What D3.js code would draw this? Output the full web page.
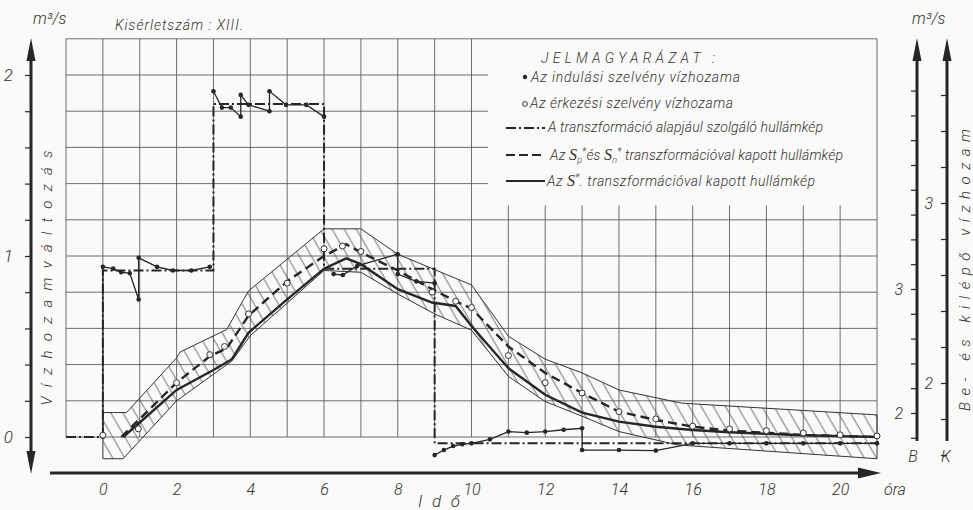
<!DOCTYPE html>
<html>
<head>
<meta charset="utf-8">
<script src="https://cdnjs.cloudflare.com/ajax/libs/d3/7.8.5/d3.min.js"></script>
<style>
body { margin: 0; background: #fafaf8; }
svg text { font-family: "Roboto", "Liberation Sans", sans-serif; font-weight: 300; font-style: italic; fill: #333; }
</style>
</head>
<body>
<div class="chart"></div>
<script>
// ---- data (hours, m3/s) ----
const hourTicks = [0, 2, 4, 6, 8, 10, 12, 14, 16, 18, 20];
const leftTicks = [0, 1, 2];
const bTicks = [2, 3];
const kTicks = [2, 3];

// dash-dot input wave
const inputWave = [[-1, 0], [0, 0], [0, 0.92], [3, 0.92], [3, 1.84], [6, 1.84], [6, 0.93], [9, 0.93], [9, -0.035], [21, -0.035]];

// filled dots: starting section discharge (several runs)
const startRun1 = [[0, 0], [0, 0.94], [0.28, 0.93], [0.5, 0.91], [0.73, 0.905], [0.97, 0.76], [0.97, 0.99], [1.47, 0.94], [1.9, 0.92], [2.4, 0.92], [2.9, 0.94]];
const startRun2 = [[3, 1.91], [3.23, 1.82], [3.47, 1.82], [3.74, 1.77], [3.74, 1.89], [3.95, 1.835], [4.52, 1.8], [4.52, 1.91], [4.97, 1.835], [5.52, 1.835], [6, 1.77]];
const startRun3 = [[6.26, 0.9], [6.51, 0.895], [6.9, 0.945], [8, 1.01], [8, 0.9], [8.5, 0.86], [9, 0.85]];
const startRun4 = [[9, -0.1], [9.25, -0.072], [9.5, -0.05], [9.75, -0.04], [10, -0.035], [10.5, -0.013], [11, 0.03], [11.5, 0.024], [12, 0.03], [12.5, 0.04], [13, 0.048], [13, -0.072], [14, -0.072], [15, -0.075], [16, -0.035], [17, -0.035], [18, -0.035], [19, -0.035], [20, -0.035], [21, -0.035]];

// hollow circles: arrival section discharge
const arrivalHours = [0, 0.96, 2, 2.9, 3.3, 3.95, 5, 6, 6.5, 7, 8.93, 9.57, 10, 11, 12, 13, 14, 15, 16, 17, 18, 19, 20, 21];
const arrivalValues = [0.01, 0.045, 0.3, 0.455, 0.5, 0.68, 0.85, 1.04, 1.055, 1.025, 0.8, 0.75, 0.715, 0.45, 0.3, 0.243, 0.14, 0.1, 0.06, 0.045, 0.035, 0.022, 0.012, 0.006];

// dashed: Sp* and Sn* transformation
const dashedWave = [[0.5, 0], [1, 0.1], [2, 0.3], [2.9, 0.446], [3.36, 0.49], [3.95, 0.67], [5, 0.86], [6, 1.0], [6.6, 1.065], [7, 1.02], [8, 0.92], [8.93, 0.817], [9.57, 0.75], [10, 0.71], [11, 0.5], [12, 0.354], [13, 0.243], [14, 0.14], [15, 0.094], [16, 0.057], [17, 0.035], [18, 0.024], [19, 0.011], [20, 0.006], [21, 0]];

// solid: S* transformation
const solidWave = [[0.55, 0], [1, 0.08], [2, 0.26], [3, 0.37], [3.5, 0.43], [3.95, 0.576], [5, 0.76], [6, 0.93], [6.6, 0.987], [7, 0.955], [8, 0.817], [8.93, 0.743], [9.57, 0.724], [10, 0.613], [11, 0.38], [12, 0.233], [13, 0.135], [14, 0.085], [15, 0.057], [16, 0.039], [17, 0.026], [18, 0.017], [19, 0.01], [20, 0.005], [21, 0]];

// hatched band
const bandUpper = [[0, 0.135], [0.64, 0.135], [2, 0.437], [2.1, 0.47], [3.36, 0.594], [3.95, 0.807], [6, 1.15], [7, 1.15], [8, 1.01], [10, 0.84], [11, 0.557], [12, 0.43], [13, 0.354], [14, 0.26], [15.7, 0.187], [21, 0.122]];
const bandLower = [[0, -0.12], [0.55, -0.12], [2, 0.2], [3.5, 0.42], [4, 0.56], [6, 0.92], [7, 0.91], [8, 0.79], [9, 0.68], [10, 0.59], [11, 0.335], [12, 0.196], [13, 0.115], [14, 0.03], [15.6, -0.044], [21, -0.12]];

const width = 973, height = 510;
const ink = "#262626";

let svg = d3.select(".chart")
    .append("svg")
    .attr("width", width)
    .attr("height", height);

let x = d3.scaleLinear().domain([-1, 21]).range([66, 877]);
let y = d3.scaleLinear().domain([0, 2]).range([437, 75]);
let yB = d3.scaleLinear().domain([2, 3]).range([413, 289]);
let yK = d3.scaleLinear().domain([2, 3]).range([383, 203]);

const legendBottom = 1.28;  // grid is cut out above this value right of hour 10.45
const legendLeft = 10.45;

// hatch pattern
let defs = svg.append("defs");
defs.append("pattern")
    .attr("id", "hatch")
    .attr("patternUnits", "userSpaceOnUse")
    .attr("width", 10.5)
    .attr("height", 10.5)
    .attr("patternTransform", "rotate(-30)")
    .append("line")
    .attr("x1", 5).attr("x2", 5)
    .attr("y1", 0).attr("y2", 10.5)
    .attr("stroke", "#555")
    .attr("stroke-width", 0.8);

// ---- grid ----
let grid = svg.append("g").attr("stroke", "#4a4a4a").attr("stroke-width", 0.8);
grid.selectAll(".vline")
    .data(d3.range(-1, 22))
    .enter()
    .append("line")
    .attr("x1", function(d){ return x(d); })
    .attr("x2", function(d){ return x(d); })
    .attr("y1", y(0))
    .attr("y2", function(d){ return (d <= 10 || d == 21) ? y(2.2) : y(legendBottom); });
grid.selectAll(".hline")
    .data(d3.range(0, 11).map(function(i){ return i * 0.2; }))
    .enter()
    .append("line")
    .attr("y1", function(d){ return y(d); })
    .attr("y2", function(d){ return y(d); })
    .attr("x1", x(-1))
    .attr("x2", function(d){ return d > legendBottom ? x(legendLeft) : x(21); });
grid.append("line")
    .attr("x1", x(-1)).attr("x2", x(21))
    .attr("y1", y(2.2)).attr("y2", y(2.2));

// ---- hatched band ----
let polyLine = d3.line()
    .x(function(d){ return x(d[0]); })
    .y(function(d){ return y(d[1]); });
svg.append("path")
    .attr("d", polyLine(bandUpper.concat(bandLower.slice().reverse())) + "Z")
    .attr("fill", "url(#hatch)")
    .attr("stroke", "#333")
    .attr("stroke-width", 1);

// ---- waves ----
svg.append("path")
    .attr("d", polyLine(inputWave))
    .attr("fill", "none")
    .attr("stroke", ink)
    .attr("stroke-width", 2)
    .attr("stroke-dasharray", "10,3,2,3");

svg.append("path")
    .attr("d", polyLine(dashedWave))
    .attr("fill", "none")
    .attr("stroke", ink)
    .attr("stroke-width", 2.4)
    .attr("stroke-dasharray", "9,5");

svg.append("path")
    .attr("d", polyLine(solidWave))
    .attr("fill", "none")
    .attr("stroke", ink)
    .attr("stroke-width", 2.4);

// starting section runs (filled dots)
[startRun1, startRun2, startRun3, startRun4].forEach(function(run){
    svg.append("path")
        .attr("d", polyLine(run))
        .attr("fill", "none")
        .attr("stroke", ink)
        .attr("stroke-width", 1.3);
    svg.selectAll(null)
        .data(run)
        .enter()
        .append("circle")
        .attr("cx", function(d){ return x(d[0]); })
        .attr("cy", function(d){ return y(d[1]); })
        .attr("r", 2.3)
        .attr("fill", ink);
});

// arrival section (hollow circles)
svg.selectAll(".arr")
    .data(arrivalHours)
    .enter()
    .append("circle")
    .attr("cx", function(d){ return x(d); })
    .attr("cy", function(d, i){ return y(arrivalValues[i]); })
    .attr("r", 3)
    .attr("fill", "#fafaf8")
    .attr("stroke", "#333")
    .attr("stroke-width", 1);

// ---- left axis ----
let leftAxis = svg.append("g")
    .attr("transform", "translate(31,0)")
    .call(d3.axisLeft(y)
        .tickValues(d3.range(0, 11).map(function(i){ return i * 0.2; }))
        .tickSize(6)
        .tickPadding(12)
        .tickFormat(function(d){ return leftTicks.indexOf(Math.round(d * 10) / 10) >= 0 ? d3.format("d")(d) : ""; }));
leftAxis.select(".domain").remove();
leftAxis.selectAll("line").attr("stroke", ink).attr("stroke-width", 1.2);
leftAxis.selectAll("text").attr("font-size", 17).attr("fill", "#333").style("font-family", null);
svg.append("line").attr("x1", 31).attr("x2", 31).attr("y1", 55).attr("y2", 457).attr("stroke", ink).attr("stroke-width", 3);
svg.append("path").attr("d", "M31,38 L26.5,61 L35.5,61 Z").attr("fill", ink);
svg.append("path").attr("d", "M31,474 L26.5,451 L35.5,451 Z").attr("fill", ink);

// ---- bottom axis ----
let bottomAxis = svg.append("g")
    .attr("transform", "translate(0,473)")
    .call(d3.axisBottom(x).tickValues(hourTicks).tickSize(0).tickPadding(11).tickFormat(d3.format("d")));
bottomAxis.select(".domain").remove();
bottomAxis.selectAll("text").attr("font-size", 16).attr("fill", "#333").style("font-family", null);
svg.append("line").attr("x1", 50).attr("x2", 862).attr("y1", 473).attr("y2", 473).attr("stroke", ink).attr("stroke-width", 3);
svg.append("path").attr("d", "M881,473 L858,467.5 L858,478.5 Z").attr("fill", ink);

// ---- right axes B and K ----
function rightAxis(scale, xpos, labels, lo, hi){
    let g = svg.append("g")
        .attr("transform", "translate(" + xpos + ",0)")
        .call(d3.axisLeft(scale)
            .tickValues(d3.range(lo, hi + 0.001, 0.2))
            .tickSize(6)
            .tickPadding(8)
            .tickFormat(function(d){ return labels.indexOf(Math.round(d * 10) / 10) >= 0 ? d3.format("d")(d) : ""; }));
    g.select(".domain").remove();
    g.selectAll("line").attr("stroke", ink).attr("stroke-width", 1.2);
    g.selectAll("text").attr("font-size", 16).attr("fill", "#333").style("font-family", null);
    svg.append("line").attr("x1", xpos).attr("x2", xpos).attr("y1", 55).attr("y2", 441).attr("stroke", ink).attr("stroke-width", 3);
    svg.append("path").attr("d", "M" + xpos + ",38 L" + (xpos - 4.5) + ",61 L" + (xpos + 4.5) + ",61 Z").attr("fill", ink);
}
rightAxis(yB, 917, bTicks, 1.8, 4.6);
rightAxis(yK, 947, kTicks, 1.6, 3.6);

// ---- texts ----
function label(txt, px, py, size, opts){
    let t = svg.append("text").attr("x", px).attr("y", py).attr("font-size", size).text(txt);
    if(opts && opts.len) t.attr("textLength", opts.len).attr("lengthAdjust", "spacing");
    if(opts && opts.anchor) t.attr("text-anchor", opts.anchor);
    if(opts && opts.rotate) t.attr("transform", "rotate(-90," + px + "," + py + ")");
    return t;
}
label("m³/s", 33, 24, 16);
label("m³/s", 912, 24, 16);
label("Kisérletszám : XIII.", 115, 30, 14, {len: 128});
label("óra", 884, 495, 16);
label("I d ő", 418, 507, 17, {len: 42});
label("B", 913, 462, 16, {anchor: "middle"});
label("K", 946, 462, 16, {anchor: "middle"});
label("Vízhozamváltozás", 52, 278, 15, {anchor: "middle", rotate: true, len: 255});
label("Be- és kilépő vízhozam", 970, 270, 15, {anchor: "middle", rotate: true, len: 282});

// ---- legend ----
label("JELMAGYARÁZAT :", 541, 63, 14, {len: 174});
svg.append("circle").attr("cx", 525).attr("cy", 77).attr("r", 2.2).attr("fill", ink);
label("Az indulási szelvény vízhozama", 531, 82, 14, {len: 209});
svg.append("circle").attr("cx", 525).attr("cy", 104).attr("r", 2.4).attr("fill", "none").attr("stroke", "#333");
label("Az érkezési szelvény vízhozama", 530, 108, 14, {len: 203});

svg.append("line").attr("x1", 506).attr("x2", 545).attr("y1", 128).attr("y2", 128)
    .attr("stroke", ink).attr("stroke-width", 2).attr("stroke-dasharray", "10,3,2,3");
label("A transzformáció alapjául szolgáló hullámkép", 548, 132, 14, {len: 275});

svg.append("line").attr("x1", 506).attr("x2", 545).attr("y1", 155).attr("y2", 155)
    .attr("stroke", ink).attr("stroke-width", 2.2).attr("stroke-dasharray", "9,4");
let l4 = svg.append("text").attr("x", 550).attr("y", 160).attr("font-size", 14)
    .attr("textLength", 293).attr("lengthAdjust", "spacing");
l4.append("tspan").text("Az ");
l4.append("tspan").text("S").style("font-family", "Liberation Serif, serif").attr("font-size", 16);
l4.append("tspan").text("p").attr("dy", 3).attr("font-size", 9);
l4.append("tspan").text("*").attr("dy", -8).attr("font-size", 10);
l4.append("tspan").text("és ").attr("dy", 5);
l4.append("tspan").text("S").style("font-family", "Liberation Serif, serif").attr("font-size", 16);
l4.append("tspan").text("n").attr("dy", 3).attr("font-size", 9);
l4.append("tspan").text("*").attr("dy", -8).attr("font-size", 10);
l4.append("tspan").text(" transzformációval kapott hullámkép").attr("dy", 5);

svg.append("line").attr("x1", 506).attr("x2", 545).attr("y1", 181).attr("y2", 181)
    .attr("stroke", ink).attr("stroke-width", 2.2);
let l5 = svg.append("text").attr("x", 547).attr("y", 186).attr("font-size", 14)
    .attr("textLength", 268).attr("lengthAdjust", "spacing");
l5.append("tspan").text("Az ");
l5.append("tspan").text("S").style("font-family", "Liberation Serif, serif").attr("font-size", 16);
l5.append("tspan").text("*").attr("dy", -5).attr("font-size", 10);
l5.append("tspan").text(". transzformációval kapott hullámkép").attr("dy", 5);
</script>
</body>
</html>
